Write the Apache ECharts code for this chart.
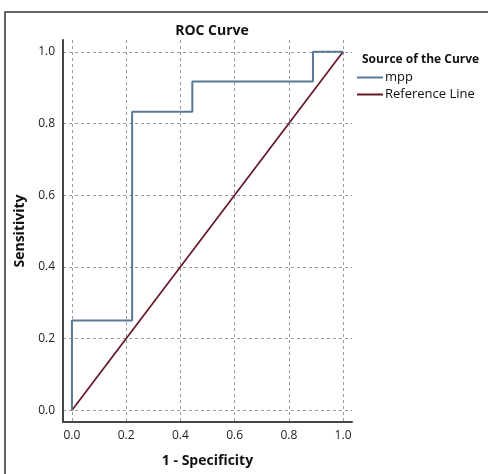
<!DOCTYPE html>
<html><head><meta charset="utf-8">
<script src="https://cdn.jsdelivr.net/npm/echarts@6/dist/echarts.min.js"></script>
<style>html,body{margin:0;padding:0;background:#fff}#c{width:488px;height:474px}</style>
</head><body><div id="c"></div>
<script>
const mppX = [0, 0, 0.222, 0.222, 0.444, 0.444, 0.889, 0.889, 1];
const mppY = [0, 0.25, 0.25, 0.833, 0.833, 0.917, 0.917, 1, 1];
const refX = [0, 1];
const refY = [0, 1];
const tickValues = [0, 0.2, 0.4, 0.6, 0.8, 1.0];
const seriesNames = ['mpp', 'Reference Line'];

const FONT = 'Open Sans';
const chart = echarts.init(document.getElementById('c'), null, {renderer: 'canvas'});
const axisCommon = (name) => ({
  type: 'value', min: -0.033, max: 1.033,
  axisLine: {show: true, onZero: false, lineStyle: {color: '#444', width: 2}},
  axisTick: {show: false, customValues: tickValues},
  axisLabel: {customValues: tickValues, formatter: v => v.toFixed(1), color: '#222', fontSize: 12, fontFamily: FONT},
  splitLine: {show: true, lineStyle: {color: '#9a9a9a', type: [3, 3], width: 1}},
  name: name, nameLocation: 'middle',
  nameTextStyle: {fontWeight: 'bold', fontSize: 14, color: '#111', fontFamily: FONT}
});
const xAxis = axisCommon('1 - Specificity');
xAxis.nameGap = 32;
xAxis.axisLabel.margin = 8;
const yAxis = axisCommon('Sensitivity');
yAxis.nameGap = 36;
yAxis.axisLabel.margin = 8;

chart.setOption({
  animation: false,
  backgroundColor: '#fff',
  textStyle: {fontFamily: FONT},
  title: {text: 'ROC Curve', left: 207, top: 19, textAlign: 'center',
    textStyle: {fontSize: 14, fontWeight: 'bold', color: '#111', fontFamily: FONT}},
  grid: {left: 63, right: 136, top: 40, bottom: 52, containLabel: false},
  xAxis: xAxis,
  yAxis: yAxis,
  legend: {
    orient: 'vertical', left: 357, top: 71, itemGap: 4, padding: 0,
    icon: 'rect', itemWidth: 26, itemHeight: 2,
    textStyle: {fontSize: 13, color: '#111', fontFamily: FONT, padding: [0, 0, 0, -3]},
    data: seriesNames
  },
  graphic: [
    {type: 'rect', shape: {x: 5, y: 12, width: 600, height: 600}, style: {fill: 'none', stroke: '#333', lineWidth: 1.5}, silent: true},
    {type: 'text', left: 362, top: 54, style: {text: 'Source of the Curve', font: 'bold 12px "Open Sans"', fill: '#111'}}
  ],
  series: [
    {name: seriesNames[0], type: 'line', data: mppX.map((x, i) => [x, mppY[i]]), showSymbol: false,
      lineStyle: {color: '#5a7896', width: 2}, itemStyle: {color: '#5a7896'}, z: 3},
    {name: seriesNames[1], type: 'line', data: refX.map((x, i) => [x, refY[i]]), showSymbol: false,
      lineStyle: {color: '#641626', width: 1.7}, itemStyle: {color: '#641626'}, z: 2}
  ]
});
</script></body></html>
